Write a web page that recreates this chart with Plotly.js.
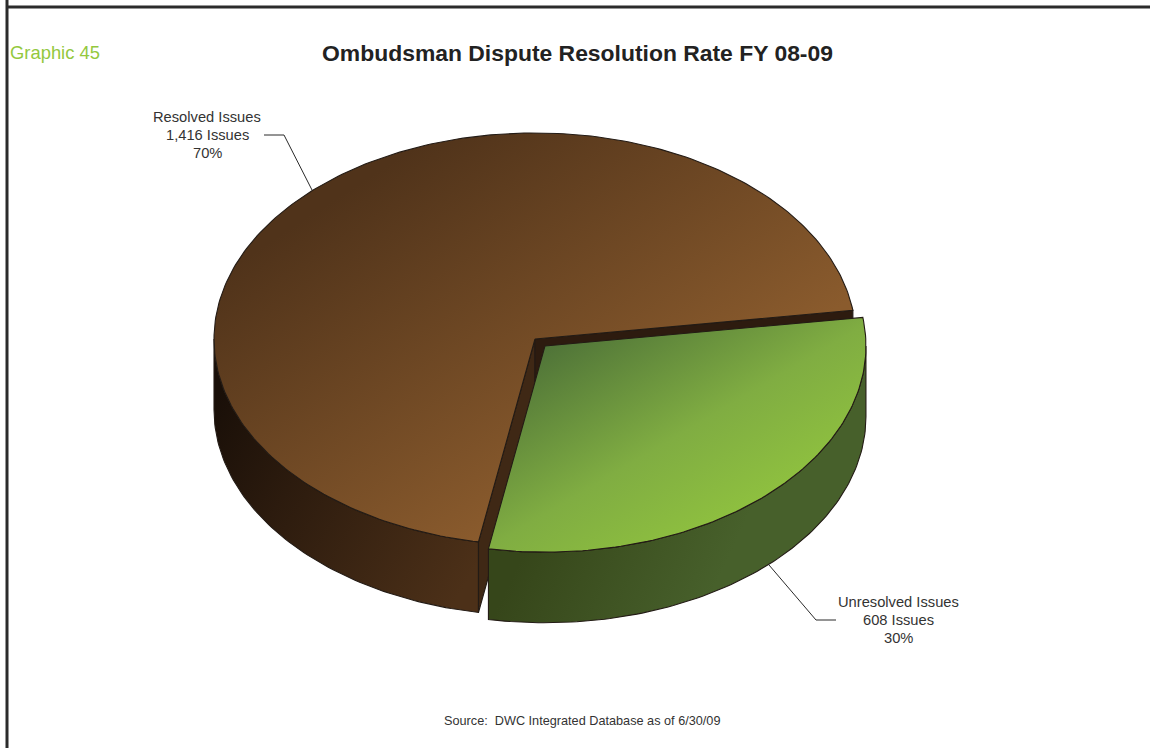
<!DOCTYPE html>
<html>
<head>
<meta charset="utf-8">
<script src="https://cdn.plot.ly/plotly-3.0.1.min.js"></script>
<style>html,body{margin:0;padding:0;background:#fff}#chart{width:1150px;height:748px}</style>
</head>
<body>
<div id="chart"></div>
<script>
// ---- data ----
var categories = ['Resolved Issues', 'Unresolved Issues'];
var issues = [1416, 608];
var percents = ['70%', '30%'];
var issueLabels = ['1,416 Issues', '608 Issues'];

// ---- appearance ----
var W = 1150, H = 748;
var FONT = '"Liberation Sans", Arial, sans-serif';
var centrePx = [535, 339];      // pie centre in pixels
var radiusPx = 321;             // horizontal radius in pixels (1 axis unit)
var tilt = 0.642;               // vertical squash of the top face
var depth = 0.220;              // height of the pie wall, axis units
var explode = [0.031, 0.022];   // offset of the pulled-out slice, axis units
var startAngle = 8.0;           // degrees above "east" where the small slice starts

var total = issues[0] + issues[1];
var sweepSmall = 360 * issues[1] / total;
var endAngle = startAngle - sweepSmall;

function rad(d) { return d * Math.PI / 180; }
function pt(a, off, dz) {
  return [off[0] + Math.cos(rad(a)), off[1] - tilt * Math.sin(rad(a)) + (dz || 0)];
}
function arc(a0, a1, off, dz) {
  var n = Math.max(2, Math.ceil(Math.abs(a1 - a0))), out = [];
  for (var i = 0; i <= n; i++) out.push(pt(a0 + (a1 - a0) * i / n, off, dz));
  return out;
}
function poly(points, colorscale, grad, lineColor) {
  var xs = points.map(function (p) { return p[0]; });
  var ys = points.map(function (p) { return p[1]; });
  xs.push(xs[0]); ys.push(ys[0]);
  var t = {
    type: 'scatter', mode: 'lines', x: xs, y: ys, fill: 'toself',
    line: { color: lineColor || '#231b15', width: 1.1 },
    hoverinfo: 'skip', showlegend: false
  };
  if (colorscale) {
    t.fillcolor = colorscale[0][1];
    t.fillgradient = { type: 'horizontal', colorscale: colorscale };
    t._g = grad;
  } else {
    t.fillcolor = grad;
  }
  return t;
}

var O = [0, 0];
var bigStartArcEnd = 360 + endAngle;   // far end of large slice, measured the long way round
var V = [O[0], O[1]];

var traces = [];
// outer wall of the large slice
var bigWall = arc(180, bigStartArcEnd, O, 0).concat(arc(bigStartArcEnd, 180, O, depth));
traces.push(poly(bigWall,
  [[0, '#190f08'], [0.35, '#2c1b0e'], [1, '#4c3018']],
  { x1: 214, y1: 400, x2: 480, y2: 560 }));
// cut face of the large slice, south side
var S = pt(endAngle, O, 0);
traces.push(poly([V, S, [S[0], S[1] + depth], [V[0], V[1] + depth]], null, '#3f2815'));
// cut face of the large slice, east side
var E = pt(startAngle, O, 0);
traces.push(poly([V, E, [E[0], E[1] + depth], [V[0], V[1] + depth]], null, '#2d1b0f'));
// top of the large slice
var bigTop = [V].concat(arc(startAngle, bigStartArcEnd, O, 0));
traces.push(poly(bigTop,
  [[0, '#50331a'], [1, '#8a5b2d']],
  { x1: 380, y1: 170, x2: 579, y2: 476 }));
// outer wall of the small slice
var smallWall = arc(endAngle, 0, explode, 0).concat(arc(0, endAngle, explode, depth));
traces.push(poly(smallWall,
  [[0, '#36461a'], [1, '#47602b']],
  { x1: 520, y1: 560, x2: 690, y2: 640 }));
// top of the small slice
var smallTop = [explode].concat(arc(startAngle, endAngle, explode, 0));
traces.push(poly(smallTop,
  [[0, '#4f7338'], [0.58, '#80ad42'], [1, '#8fc13f']],
  { x1: 545, y1: 346, x2: 672, y2: 561 }));

function px(x) { return x / W; }
function py(y) { return 1 - y / H; }
function leader(pts) {
  var s = [];
  for (var i = 0; i + 1 < pts.length; i++) {
    s.push({ type: 'line', xref: 'paper', yref: 'paper',
      x0: px(pts[i][0]), y0: py(pts[i][1]), x1: px(pts[i + 1][0]), y1: py(pts[i + 1][1]),
      line: { color: '#2a2a2a', width: 1 } });
  }
  return s;
}
function frame(x0, y0, x1, y1) {
  return { type: 'line', xref: 'paper', yref: 'paper',
    x0: px(x0), y0: py(y0), x1: px(x1), y1: py(y1), line: { color: '#2b2b2b', width: 3 } };
}
function note(text, x, y, size, color, anchor) {
  return { text: text, xref: 'paper', yref: 'paper', x: px(x), y: py(y),
    xanchor: anchor || 'center', yanchor: 'middle', showarrow: false, align: 'center',
    font: { family: FONT, size: size, color: color } };
}
var labelSize = 14.7, labelGap = 18;
function sliceNotes(i, x, y) {
  return [categories[i], issueLabels[i], percents[i]].map(function (s, k) {
    return note(s, x, y + (k - 1) * labelGap, labelSize, '#333333');
  });
}

var layout = {
  width: W, height: H,
  margin: { l: 0, r: 0, t: 0, b: 0, pad: 0 },
  paper_bgcolor: '#fff', plot_bgcolor: '#fff',
  showlegend: false, hovermode: false,
  title: { text: '<b>Ombudsman Dispute Resolution Rate FY 08-09</b>',
    x: px(577.5), xanchor: 'center', y: py(53), yanchor: 'middle',
    font: { family: FONT, size: 22.9, color: '#222222' } },
  xaxis: { visible: false, fixedrange: true,
    range: [-centrePx[0] / radiusPx, (W - centrePx[0]) / radiusPx] },
  yaxis: { visible: false, fixedrange: true,
    range: [(H - centrePx[1]) / radiusPx, -centrePx[1] / radiusPx] },
  shapes: [frame(7, 0, 7, 748), frame(7, 7, 1150, 7)]
    .concat(leader([[264, 135], [284, 135], [312, 190]]))
    .concat(leader([[769, 565], [816, 620], [836, 620]])),
  annotations: [
    note('Graphic 45', 8, 53, 18.4, '#93c83e', 'left'),
    note('Source:  DWC Integrated Database as of 6/30/09', 582, 720.5, 12.7, '#333333')
  ].concat(sliceNotes(0, 207, 134.5)).concat(sliceNotes(1, 898, 619.5))
};

var gd = document.getElementById('chart');
function tiltGradients() {
  // fillgradient only offers axis-aligned directions; the reference shades diagonally.
  // Plotly writes its colour stops end-first, so the direction is set from far end to near end.
  var groups = gd.querySelectorAll('.scatterlayer .trace');
  groups.forEach(function (g, i) {
    var t = traces[i], fill = g.querySelector('.js-fill');
    if (!t || !t._g || !fill) return;
    var m = /url\(["']?#([^"')]+)["']?\)/.exec(fill.style.fill || fill.getAttribute('style') || '');
    if (!m) return;
    var el = document.getElementById(m[1]);
    if (!el) return;
    el.setAttribute('gradientUnits', 'userSpaceOnUse');
    el.setAttribute('x1', t._g.x2); el.setAttribute('y1', t._g.y2);
    el.setAttribute('x2', t._g.x1); el.setAttribute('y2', t._g.y1);
  });
}
Plotly.newPlot(gd, traces, layout, { displayModeBar: false, staticPlot: true }).then(function () {
  tiltGradients();
  gd.on('plotly_afterplot', tiltGradients);
});
</script>
</body>
</html>
